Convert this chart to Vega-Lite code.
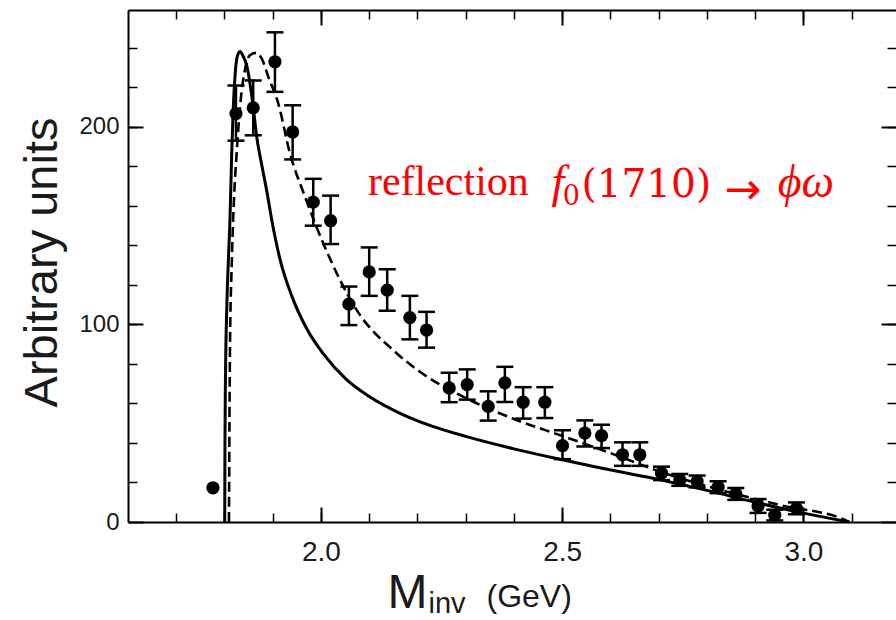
{
  "$schema": "https://vega.github.io/schema/vega-lite/v6.json",
  "width": 768,
  "height": 512,
  "autosize": {"type": "none"},
  "padding": {"left": 128, "top": 10, "right": 0, "bottom": 98},
  "background": "white",
  "config": {
    "view": {"stroke": null},
    "axis": {
      "grid": false,
      "labelFont": "Liberation Sans",
      "titleFont": "Liberation Sans",
      "labelColor": "#1a1a1a",
      "titleColor": "#1a1a1a",
      "titleFontWeight": "normal",
      "domainColor": "#000000",
      "domainWidth": 2,
      "tickColor": "#000000",
      "labelFlush": false
    }
  },
  "datasets": {
    "pts": [
      {"m": 1.7761, "v": 17.3, "lo": null, "hi": null},
      {"m": 1.8238, "v": 206.6, "lo": 192.9, "hi": 220.8},
      {"m": 1.8596, "v": 209.5, "lo": 195.6, "hi": 223.4},
      {"m": 1.9046, "v": 232.8, "lo": 217.6, "hi": 247.7},
      {"m": 1.9413, "v": 197.3, "lo": 183.4, "hi": 210.8},
      {"m": 1.9840, "v": 161.8, "lo": 149.9, "hi": 173.6},
      {"m": 2.0200, "v": 152.4, "lo": 140.6, "hi": 165.1},
      {"m": 2.0579, "v": 110.2, "lo": 99.6, "hi": 119.1},
      {"m": 2.1000, "v": 126.5, "lo": 114.4, "hi": 138.9},
      {"m": 2.1373, "v": 117.3, "lo": 106.8, "hi": 127.9},
      {"m": 2.1843, "v": 103.4, "lo": 92.4, "hi": 114.4},
      {"m": 2.2189, "v": 97.1, "lo": 88.2, "hi": 106.3},
      {"m": 2.2658, "v": 67.8, "lo": 60.6, "hi": 75.5},
      {"m": 2.3031, "v": 69.5, "lo": 61.9, "hi": 77.2},
      {"m": 2.3466, "v": 58.5, "lo": 51.3, "hi": 66.1},
      {"m": 2.3812, "v": 70.4, "lo": 60.7, "hi": 78.5},
      {"m": 2.4191, "v": 60.6, "lo": 52.3, "hi": 68.2},
      {"m": 2.4641, "v": 60.6, "lo": 52.6, "hi": 68.2},
      {"m": 2.5007, "v": 38.6, "lo": 31.8, "hi": 46.4},
      {"m": 2.5470, "v": 45.0, "lo": 38.2, "hi": 51.4},
      {"m": 2.5816, "v": 43.7, "lo": 37.4, "hi": 49.2},
      {"m": 2.6251, "v": 34.0, "lo": 28.4, "hi": 40.3},
      {"m": 2.6609, "v": 34.0, "lo": 28.4, "hi": 40.3},
      {"m": 2.7059, "v": 24.7, "lo": 21.2, "hi": 28.0},
      {"m": 2.7438, "v": 21.3, "lo": 18.3, "hi": 24.3},
      {"m": 2.7797, "v": 20.5, "lo": 17.5, "hi": 23.5},
      {"m": 2.8232, "v": 17.6, "lo": 14.6, "hi": 20.6},
      {"m": 2.8599, "v": 14.2, "lo": 11.2, "hi": 17.2},
      {"m": 2.9061, "v": 8.1, "lo": 4.6, "hi": 11.6},
      {"m": 2.9407, "v": 3.5, "lo": 0.8, "hi": 6.2},
      {"m": 2.9856, "v": 6.9, "lo": 3.9, "hi": 9.9}
    ],
    "solid": [
      {"m": 1.8005, "v": 0}, {"m": 1.8010, "v": 40}, {"m": 1.8020, "v": 72}, {"m": 1.8050, "v": 110},
      {"m": 1.8085, "v": 135}, {"m": 1.8114, "v": 153}, {"m": 1.8149, "v": 186}, {"m": 1.8180, "v": 208},
      {"m": 1.8217, "v": 225}, {"m": 1.8260, "v": 235}, {"m": 1.8320, "v": 238}, {"m": 1.8380, "v": 236},
      {"m": 1.8460, "v": 231}, {"m": 1.8528, "v": 222}, {"m": 1.8600, "v": 209}, {"m": 1.8667, "v": 195},
      {"m": 1.8770, "v": 181}, {"m": 1.8880, "v": 167}, {"m": 1.8978, "v": 153}, {"m": 1.9150, "v": 133},
      {"m": 1.9400, "v": 114}, {"m": 1.9700, "v": 98}, {"m": 2.0050, "v": 85}, {"m": 2.0530, "v": 72},
      {"m": 2.1000, "v": 63.5}, {"m": 2.1640, "v": 55}, {"m": 2.2300, "v": 48.5}, {"m": 2.3020, "v": 43.2},
      {"m": 2.4000, "v": 37}, {"m": 2.5000, "v": 31.5}, {"m": 2.5800, "v": 27.3}, {"m": 2.7030, "v": 21.3},
      {"m": 2.8000, "v": 16}, {"m": 2.9000, "v": 10}, {"m": 3.0000, "v": 4.5}, {"m": 3.0960, "v": 0}
    ],
    "dashed": [
      {"m": 1.8093, "v": 0}, {"m": 1.8114, "v": 88.7}, {"m": 1.8150, "v": 130}, {"m": 1.8200, "v": 165},
      {"m": 1.8252, "v": 186.5}, {"m": 1.8330, "v": 212}, {"m": 1.8424, "v": 228.7}, {"m": 1.8520, "v": 236},
      {"m": 1.8652, "v": 237.3}, {"m": 1.8780, "v": 234}, {"m": 1.8907, "v": 225.3}, {"m": 1.9114, "v": 211.8},
      {"m": 1.9357, "v": 186.5}, {"m": 1.9668, "v": 164.6}, {"m": 2.0047, "v": 141}, {"m": 2.0739, "v": 107.3},
      {"m": 2.1568, "v": 85.4}, {"m": 2.2051, "v": 76}, {"m": 2.3087, "v": 61.7}, {"m": 2.4054, "v": 51.6},
      {"m": 2.5007, "v": 43.5}, {"m": 2.5919, "v": 35.6}, {"m": 2.7024, "v": 25.5}, {"m": 2.9510, "v": 8.6},
      {"m": 3.0892, "v": 0.7}, {"m": 3.0930, "v": 0}
    ]
  },
  "layer": [
    {
      "data": {"name": "solid"},
      "mark": {"type": "line", "color": "black", "strokeWidth": 3, "interpolate": "monotone"},
      "encoding": {
        "x": {"field": "m", "type": "quantitative", "scale": {"domain": [1.6, 3.192], "nice": false, "zero": false},
          "axis": {"orient": "bottom", "ticks": false, "labels": false, "domain": false, "title": "(GeV)", "titleFontSize": 32, "titleX": 358, "titleY": 84, "titleAlign": "left", "titleBaseline": "alphabetic"}},
        "y": {"field": "v", "type": "quantitative", "scale": {"domain": [0, 259], "nice": false}, "axis": null}
      }
    },
    {
      "data": {"name": "dashed"},
      "mark": {"type": "line", "color": "black", "strokeWidth": 2.6, "strokeDash": [10, 5], "interpolate": "monotone"},
      "encoding": {
        "x": {"field": "m", "type": "quantitative", "scale": {"domain": [1.6, 3.192], "nice": false, "zero": false},
          "axis": {"orient": "top", "values": [1.7, 1.8, 1.9, 2.0, 2.1, 2.2, 2.3, 2.4, 2.5, 2.6, 2.7, 2.8, 2.9, 3.0, 3.1], "tickSize": -9, "tickWidth": 1.5, "labels": false, "domain": false, "title": null}},
        "y": {"field": "v", "type": "quantitative", "scale": {"domain": [0, 259], "nice": false},
          "axis": {"orient": "right", "values": [20, 40, 60, 80, 100, 120, 140, 160, 180, 200, 220, 240], "tickSize": -9, "tickWidth": 1.5, "labels": false, "domain": false, "title": null}}
      }
    },
    {
      "data": {"name": "pts"},
      "mark": {"type": "rule", "color": "black", "strokeWidth": 2.5},
      "encoding": {
        "x": {"field": "m", "type": "quantitative", "scale": {"domain": [1.6, 3.192], "nice": false, "zero": false},
          "axis": {"orient": "bottom", "values": [1.7, 1.8, 1.9, 2.0, 2.1, 2.2, 2.3, 2.4, 2.5, 2.6, 2.7, 2.8, 2.9, 3.0, 3.1], "tickSize": -9, "tickWidth": 1.5, "labels": false, "domain": false, "title": "inv", "titleFontSize": 29, "titleX": 300, "titleY": 90, "titleAlign": "left", "titleBaseline": "alphabetic"}},
        "y": {"field": "lo", "type": "quantitative", "scale": {"domain": [0, 259], "nice": false},
          "axis": {"orient": "left", "values": [20, 40, 60, 80, 100, 120, 140, 160, 180, 200, 220, 240], "tickSize": -9, "tickWidth": 1.5, "labels": false, "domain": false, "title": null}},
        "y2": {"field": "hi"}
      }
    },
    {
      "data": {"name": "pts"},
      "mark": {"type": "tick", "orient": "horizontal", "color": "black", "size": 17, "thickness": 2.5, "opacity": 1},
      "encoding": {
        "x": {"field": "m", "type": "quantitative", "scale": {"domain": [1.6, 3.192], "nice": false, "zero": false},
          "axis": {"orient": "top", "values": [2.0, 2.5, 3.0], "tickSize": -15, "tickWidth": 2, "labels": false, "domain": true, "title": null}},
        "y": {"field": "hi", "type": "quantitative", "scale": {"domain": [0, 259], "nice": false},
          "axis": {"orient": "right", "values": [0, 100, 200], "tickSize": -15, "tickWidth": 2, "labels": false, "domain": false, "title": null}}
      }
    },
    {
      "data": {"name": "pts"},
      "mark": {"type": "tick", "orient": "horizontal", "color": "black", "size": 17, "thickness": 2.5, "opacity": 1},
      "encoding": {
        "x": {"field": "m", "type": "quantitative", "scale": {"domain": [1.6, 3.192], "nice": false, "zero": false}, "axis": null},
        "y": {"field": "lo", "type": "quantitative", "scale": {"domain": [0, 259], "nice": false}, "axis": null}
      }
    },
    {
      "data": {"name": "pts"},
      "mark": {"type": "circle", "color": "black", "size": 175, "opacity": 1},
      "encoding": {
        "x": {"field": "m", "type": "quantitative", "scale": {"domain": [1.6, 3.192], "nice": false, "zero": false},
          "axis": {"orient": "bottom", "values": [2.0, 2.5, 3.0], "format": ".1f", "tickSize": -15, "tickWidth": 2, "labelPadding": 31, "labelFontSize": 28, "domain": true, "title": "M", "titleFontSize": 48, "titleX": 259, "titleY": 85, "titleAlign": "left", "titleBaseline": "alphabetic"}},
        "y": {"field": "v", "type": "quantitative", "scale": {"domain": [0, 259], "nice": false},
          "axis": {"orient": "left", "values": [0, 100, 200], "format": "d", "tickSize": -15, "tickWidth": 2, "labelPadding": 24, "labelFontSize": 24, "domain": true, "title": "Arbitrary units", "titleFontSize": 47, "titleX": -86, "titleY": 252, "titleAlign": "center", "titleBaseline": "middle", "titleAngle": -90}}
      }
    },
    {
      "data": {"values": [{"m": 2.0973, "v": 165.4, "t": "reflection"}]},
      "mark": {"type": "text", "font": "Liberation Serif", "fontSize": 42, "color": "#ff0000", "align": "left", "baseline": "alphabetic"},
      "encoding": {
        "x": {"field": "m", "type": "quantitative", "scale": {"domain": [1.6, 3.192], "nice": false, "zero": false}, "axis": null},
        "y": {"field": "v", "type": "quantitative", "scale": {"domain": [0, 259], "nice": false}, "axis": null},
        "text": {"field": "t"}
      }
    },
    {
      "data": {"values": [{"m": 2.478, "v": 164.6, "t": "f"}, {"m": 2.947, "v": 164.6, "t": "ϕω"}]},
      "mark": {"type": "text", "font": "Liberation Serif", "fontSize": 46, "fontStyle": "italic", "color": "#ff0000", "align": "left", "baseline": "alphabetic"},
      "encoding": {
        "x": {"field": "m", "type": "quantitative", "scale": {"domain": [1.6, 3.192], "nice": false, "zero": false}, "axis": null},
        "y": {"field": "v", "type": "quantitative", "scale": {"domain": [0, 259], "nice": false}, "axis": null},
        "text": {"field": "t"}
      }
    },
    {
      "data": {"values": [{"m": 2.5013, "v": 160.4, "t": "0"}]},
      "mark": {"type": "text", "font": "DejaVu Serif", "fontSize": 27, "color": "#ff0000", "align": "left", "baseline": "alphabetic"},
      "encoding": {
        "x": {"field": "m", "type": "quantitative", "scale": {"domain": [1.6, 3.192], "nice": false, "zero": false}, "axis": null},
        "y": {"field": "v", "type": "quantitative", "scale": {"domain": [0, 259], "nice": false}, "axis": null},
        "text": {"field": "t"}
      }
    },
    {
      "data": {"values": [{"m": 2.540, "v": 164.6, "t": "(1710)"}]},
      "mark": {"type": "text", "font": "DejaVu Serif", "fontSize": 39, "color": "#ff0000", "align": "left", "baseline": "alphabetic"},
      "encoding": {
        "x": {"field": "m", "type": "quantitative", "scale": {"domain": [1.6, 3.192], "nice": false, "zero": false}, "axis": null},
        "y": {"field": "v", "type": "quantitative", "scale": {"domain": [0, 259], "nice": false}, "axis": null},
        "text": {"field": "t"}
      }
    },
    {
      "data": {"values": [{"m": 2.836, "v": 160.8, "t": "→"}]},
      "mark": {"type": "text", "font": "DejaVu Sans", "fontSize": 44, "color": "#ff0000", "align": "left", "baseline": "alphabetic"},
      "encoding": {
        "x": {"field": "m", "type": "quantitative", "scale": {"domain": [1.6, 3.192], "nice": false, "zero": false}, "axis": null},
        "y": {"field": "v", "type": "quantitative", "scale": {"domain": [0, 259], "nice": false}, "axis": null},
        "text": {"field": "t"}
      }
    }
  ],
  "resolve": {"axis": {"x": "independent", "y": "independent"}}
}
